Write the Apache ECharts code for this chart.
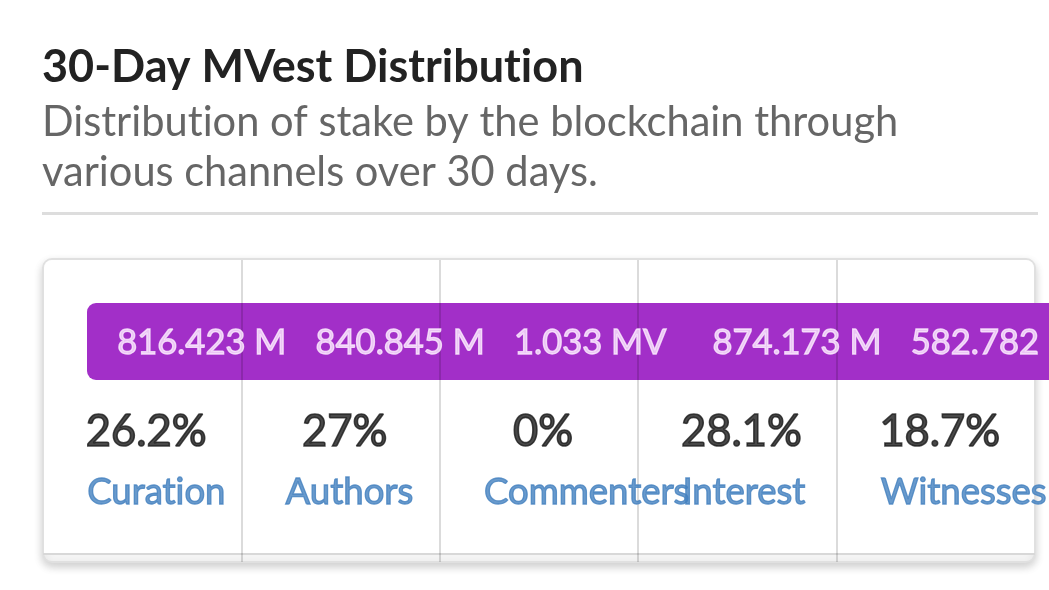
<!DOCTYPE html>
<html>
<head>
<meta charset="utf-8">
<script src="https://cdn.jsdelivr.net/npm/echarts@6/dist/echarts.min.js"></script>
<style>
html,body{margin:0;padding:0;background:#fff;}
#chart{width:1049px;height:590px;}
</style>
</head>
<body>
<div id="chart"></div>
<script>
const categories = ['Curation', 'Authors', 'Commenters', 'Interest', 'Witnesses'];
const amountLabels = ['816.423 M', '840.845 M', '1.033 MV', '874.173 M', '582.782'];
const sharePercent = [26.2, 27, 0, 28.1, 18.7];

// draw text without the "ti" ligature, as in the reference
(function () {
  const orig = HTMLCanvasElement.prototype.getContext;
  HTMLCanvasElement.prototype.getContext = function (type, attrs) {
    const ctx = orig.call(this, type, attrs);
    if (ctx && type === '2d' && 'textRendering' in ctx) { ctx.textRendering = 'optimizeSpeed'; }
    return ctx;
  };
})();

const FONT = 'Lato, "Noto Sans", sans-serif';
const GL = 43, GR = 14;

const chart = echarts.init(document.getElementById('chart'), null, {renderer: 'canvas'});

function rowGrid(centerY) {
  return {left: GL, right: GR, top: centerY - 1, height: 2, containLabel: false};
}
function hiddenX(gi) {
  return {type: 'category', data: categories, gridIndex: gi, boundaryGap: true,
    axisLine: {show: false}, axisTick: {show: false}, axisLabel: {show: false}, splitLine: {show: false}};
}
function hiddenY(gi) {
  return {type: 'value', gridIndex: gi, min: -1, max: 1, show: false};
}
function textSeries(gi, formatter, style) {
  return {
    type: 'scatter', xAxisIndex: gi, yAxisIndex: gi, z: 5,
    symbolSize: 1, itemStyle: {color: 'rgba(0,0,0,0)'}, silent: true,
    data: categories.map((c) => [c, 0]),
    label: Object.assign({show: true, position: 'inside', fontFamily: FONT, formatter: formatter,
      textShadowBlur: 0}, style)
  };
}

const option = {
  backgroundColor: '#ffffff',
  animation: false,
  title: {
    text: '30-Day MVest Distribution',
    subtext: 'Distribution of stake by the blockchain through\nvarious channels over 30 days.',
    left: 37, top: 40, itemGap: 8,
    textStyle: {fontFamily: FONT, fontSize: 45, fontWeight: 'bold', color: '#222222'},
    subtextStyle: {fontFamily: FONT, fontSize: 41.6, color: '#666666', lineHeight: 50}
  },
  graphic: [
    {type: 'rect', z: -5, shape: {x: 42, y: 212, width: 996, height: 3}, style: {fill: '#dddddd'}},
    {type: 'rect', z: -5, shape: {x: 43, y: 259, width: 992, height: 303, r: 9},
      style: {fill: '#f4f4f4', stroke: '#e0e0e0', lineWidth: 2, shadowBlur: 8, shadowOffsetY: 4, shadowColor: 'rgba(0,0,0,0.18)'}},
    {type: 'rect', z: -4, shape: {x: 44, y: 260, width: 990, height: 293, r: [8, 8, 0, 0]}, style: {fill: '#ffffff'}},
    {type: 'line', z: -4, shape: {x1: 43, y1: 554, x2: 1035, y2: 554}, style: {stroke: '#d8d8d8', lineWidth: 2}},
    {type: 'rect', z: -3, shape: {x: 87, y: 303, width: 1000, height: 77, r: [9, 0, 0, 9]}, style: {fill: '#a22fc8'}}
  ],
  grid: [
    {left: GL, right: GR, top: 260, height: 302},
    rowGrid(343),
    rowGrid(432),
    rowGrid(492)
  ],
  xAxis: [
    {type: 'category', data: categories, gridIndex: 0, boundaryGap: true, z: 3,
      axisLine: {show: false}, axisTick: {show: false}, axisLabel: {show: false},
      splitLine: {show: true, showMinLine: false, showMaxLine: false, lineStyle: {color: 'rgba(0,0,0,0.14)', width: 2}}},
    hiddenX(1), hiddenX(2), hiddenX(3)
  ],
  yAxis: [
    {type: 'value', gridIndex: 0, show: false},
    hiddenY(1), hiddenY(2), hiddenY(3)
  ],
  series: [
    textSeries(1, (p) => amountLabels[p.dataIndex],
      {align: 'left', offset: [-25, 0], fontSize: 34.5, color: '#fcecff', textBorderColor: '#fcecff', textBorderWidth: 1.3}),
    textSeries(2, (p) => sharePercent[p.dataIndex] + '%',
      {align: 'center', offset: [4, 0], fontSize: 43.5, color: '#1a1a1a', textBorderColor: '#1a1a1a', textBorderWidth: 1.6}),
    textSeries(3, (p) => categories[p.dataIndex],
      {align: 'left', offset: [-55, 0], fontSize: 36.5, color: '#4481bf', textBorderColor: '#4481bf', textBorderWidth: 1.3})
  ]
};
chart.setOption(option);
</script>
</body>
</html>
